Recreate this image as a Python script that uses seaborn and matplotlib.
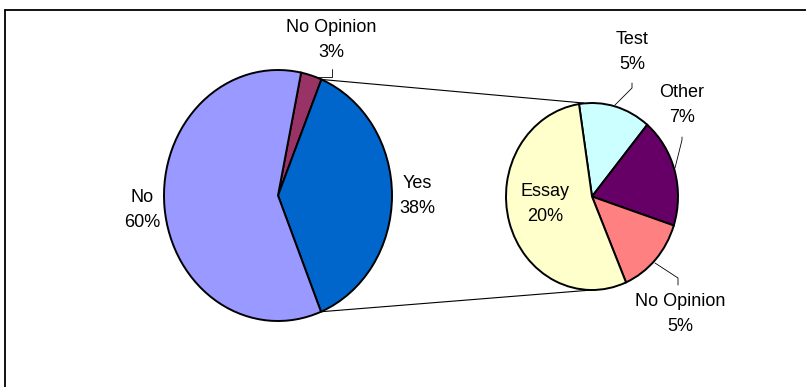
import matplotlib
matplotlib.use("Agg")
import numpy as np
import matplotlib.pyplot as plt
from matplotlib.lines import Line2D
from matplotlib.patches import ConnectionPatch
import seaborn as sns

# Survey answers (main pie)
main_labels = ["No Opinion", "Yes", "No"]
main_values = [3, 38, 60]
main_colors = ["#993366", "#0066CC", "#9999FF"]

# Breakdown of the "Yes" answers (secondary pie)
sub_labels = ["Test", "Other", "No Opinion", "Essay"]
sub_values = [5, 7, 5, 20]
sub_colors = ["#CCFFFF", "#660066", "#FF8080", "#FFFFCC"]

sns.set_theme(style="white")
plt.rcParams["font.family"] = ["Liberation Sans", "DejaVu Sans"]

W, H = 806, 387
fig = plt.figure(figsize=(W / 100, H / 100), dpi=100)
fig.patch.set_facecolor("white")


def box(x0, y0, x1, y1):
    """Pixel box (top-left origin) -> figure fraction rect."""
    return [x0 / W, 1 - y1 / H, (x1 - x0) / W, (y1 - y0) / H]


def fx(x):
    return x / W


def fy(y):
    return 1 - y / H


ax_main = fig.add_axes(box(164, 70, 392, 321))
ax_sub = fig.add_axes(box(506, 103, 678, 290))

wedge_style = dict(edgecolor="black", linewidth=1.4)

main_wedges, _ = ax_main.pie(main_values, colors=main_colors, startangle=78.3,
                             counterclock=False, radius=1,
                             wedgeprops=wedge_style)
sub_wedges, _ = ax_sub.pie(sub_values, colors=sub_colors, startangle=98.7,
                           counterclock=False, radius=1,
                           wedgeprops=wedge_style)

for ax in (ax_main, ax_sub):
    ax.set_aspect("auto")
    ax.set_xlim(-1, 1)
    ax.set_ylim(-1, 1)
    ax.axis("off")
for w in list(main_wedges) + list(sub_wedges):
    w.set_clip_on(False)

# Connector lines from the "Yes" wedge to the secondary pie (drawn beneath the pies)
yes = main_wedges[main_labels.index("Yes")]
for theta, target in ((yes.theta2, (-0.1, 1)), (yes.theta1, (0, -1))):
    t = np.deg2rad(theta)
    con = ConnectionPatch(xyA=(np.cos(t), np.sin(t)), coordsA=ax_main.transData,
                          xyB=target, coordsB=ax_sub.transData,
                          color="black", linewidth=0.8, zorder=-1)
    fig.add_artist(con)

# Data labels
text_style = dict(ha="center", va="center", fontsize=13, color="black",
                  linespacing=1.55)
main_pos = {"No Opinion": (331, 40), "Yes": (417, 196), "No": (142, 210)}
sub_pos = {"Test": (632, 52), "Other": (682, 105),
           "No Opinion": (680, 314), "Essay": (545, 204)}
for lab, val in zip(main_labels, main_values):
    x, y = main_pos[lab]
    fig.text(fx(x), fy(y), f"{lab}\n{val}%", **text_style)
for lab, val in zip(sub_labels, sub_values):
    x, y = sub_pos[lab]
    fig.text(fx(x), fy(y), f"{lab}\n{val}%", **text_style)

# Leader lines
leaders = [
    [(316, 77), (332, 77), (332, 69)],
    [(615, 105), (632, 88), (632, 83)],
    [(675, 168), (682, 140), (682, 137)],
    [(655, 263), (678, 278), (678, 285)],
]
for pts in leaders:
    xs = [fx(p[0]) for p in pts]
    ys = [fy(p[1]) for p in pts]
    fig.add_artist(Line2D(xs, ys, color="black", linewidth=0.6,
                          transform=fig.transFigure))

# Chart area frame (top and left edges)
fig.add_artist(Line2D([fx(5), fx(806)], [fy(10), fy(10)], color="black",
                      linewidth=1.3, transform=fig.transFigure))
fig.add_artist(Line2D([fx(5), fx(5)], [fy(10), fy(387)], color="black",
                      linewidth=1.3, transform=fig.transFigure))

fig.savefig("out.png", dpi=100, facecolor="white")
